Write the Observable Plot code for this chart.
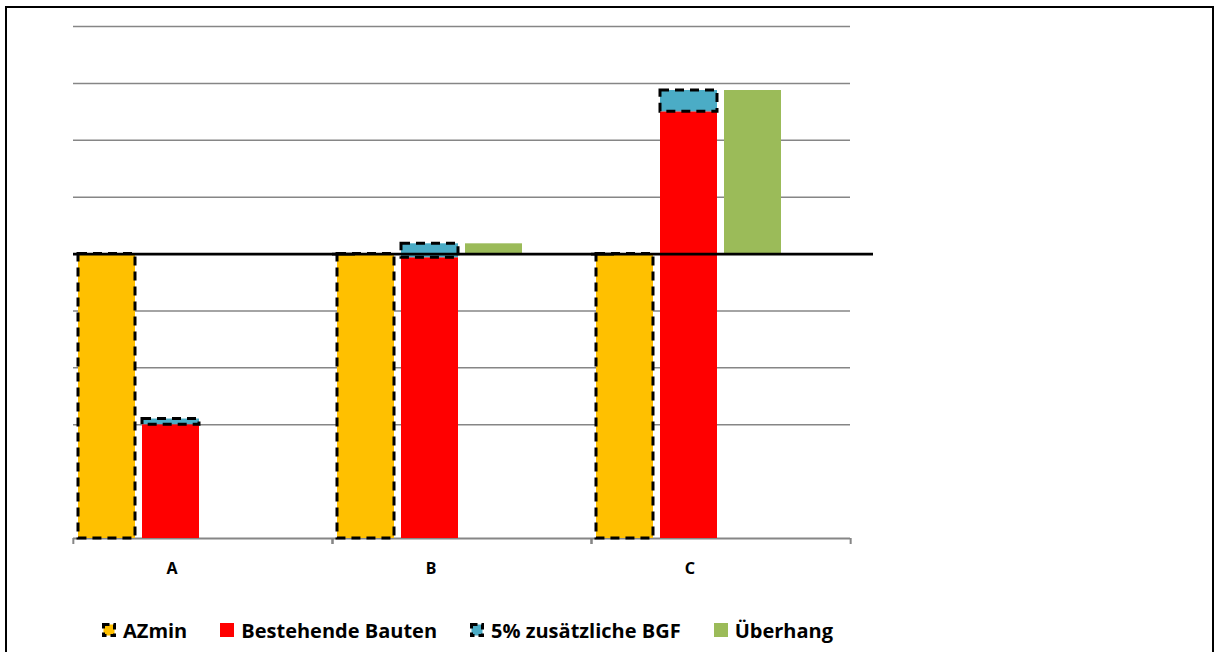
<!DOCTYPE html>
<html>
<head>
<meta charset="utf-8">
<script src="https://cdn.jsdelivr.net/npm/d3@7"></script>
<script src="https://cdn.jsdelivr.net/npm/@observablehq/plot@0.6"></script>
<style>
  html, body { margin: 0; padding: 0; background: #fff; }
  #wrap { position: relative; width: 1216px; height: 652px; overflow: hidden; font-family: "Open Sans", sans-serif; }
  #border { position: absolute; left: 5px; top: 6px; width: 1205px; height: 720px; border: 2px solid #000; pointer-events: none; }
  #chart { position: absolute; left: 0; top: 0; }
  #legend { position: absolute; left: 102px; top: 606px; height: 48px; display: flex; align-items: center; gap: 33px;
            font-weight: 700; font-size: 20px; color: #000; }
  .item { display: flex; align-items: center; gap: 7px; white-space: nowrap; }
  .item svg { display: block; }
</style>
</head>
<body>
<div id="wrap">
  <div id="chart"></div>
  <div id="legend"></div>
  <div id="border"></div>
</div>
<script>
// Categories and series values (share of the minimum floor-area ratio, AZmin = 100)
const categories = ["A", "B", "C"];
const azmin      = [100, 100, 100];
const bestehend  = [40, 98.7, 150];
const zusatz     = [2, 4.9, 7.5];
const ueberhang  = [0, 3.6, 57.5];

// Series labels, their bar slots and colours
const seriesNames = ["AZmin", "Bestehende Bauten", "5% zusätzliche BGF", "Überhang"];
const slots = ["AZmin", "Bestehende Bauten", "Überhang", "—"];
const colors = ["#FFC000", "#FF0000", "#4BACC6", "#9BBB59"];
const dashed = [true, false, true, false];

// Horizontal gridline values (the axis floor and the AZmin line drawn separately)
const gridTicks = [40, 60, 80, 120, 140, 160, 180];

const rows = categories.map((cat, i) => ({
  cat, azmin: azmin[i], bestehend: bestehend[i], zusatz: zusatz[i], ueberhang: ueberhang[i]
}));

const dash = {stroke: "#000", strokeWidth: 3, strokeDasharray: "9,6"};

const chart = Plot.plot({
  width: 1216,
  height: 600,
  marginLeft: 72,
  marginRight: 366,
  marginTop: 26,
  marginBottom: 62,
  fx: {domain: categories, padding: 0, axis: null, label: null},
  x: {domain: slots, paddingInner: 0.11, paddingOuter: 0.05, axis: null},
  y: {domain: [0, 180], axis: null},
  marks: [
    Plot.ruleY(gridTicks, {stroke: "#868686", strokeWidth: 1.5}),
    Plot.ruleY([0], {stroke: "#868686", strokeWidth: 1.8}),
    // category boundary ticks below the axis line
    Plot.axisFx({anchor: "bottom", dx: -778 / 6, tickSize: 6, tickFormat: () => "", stroke: "#868686", strokeWidth: 2, label: null}),
    Plot.axisFx({anchor: "bottom", dx: 778 / 6, tickSize: 6, tickFormat: () => "", stroke: "#868686", strokeWidth: 2, label: null}),
    // category labels
    Plot.axisFx({anchor: "bottom", dx: -31, tickSize: 0, tickPadding: 24, fontSize: 16, fontWeight: "bold", fill: "#000", label: null}),
    Plot.barY(rows, {fx: "cat", x: () => slots[0], y1: 0, y2: "azmin", fill: colors[0], ...dash}),
    Plot.barY(rows, {fx: "cat", x: () => slots[1], y1: 0, y2: "bestehend", fill: colors[1]}),
    Plot.barY(rows, {fx: "cat", x: () => slots[1], y1: "bestehend", y2: d => d.bestehend + d.zusatz, fill: colors[2], ...dash}),
    Plot.barY(rows.filter(d => d.ueberhang > 0), {fx: "cat", x: () => slots[2], y1: "azmin", y2: d => d.azmin + d.ueberhang, fill: colors[3]}),
    // AZmin reference line
    Plot.ruleY([100], {stroke: "#000", strokeWidth: 2.8, insetRight: -23})
  ]
});
document.getElementById("chart").appendChild(chart);

// Legend
const legend = d3.select("#legend");
seriesNames.forEach((name, i) => {
  const item = legend.append("div").attr("class", "item");
  const sw = item.append("svg").attr("width", 14).attr("height", 14);
  const r = sw.append("rect").attr("width", 14).attr("height", 14).attr("fill", colors[i]);
  if (dashed[i]) {
    r.attr("x", 1.5).attr("y", 1.5).attr("width", 11).attr("height", 11)
     .attr("stroke", "#000").attr("stroke-width", 3).attr("stroke-dasharray", "6,4");
  }
  item.append("span").text(name);
});
</script>
</body>
</html>
